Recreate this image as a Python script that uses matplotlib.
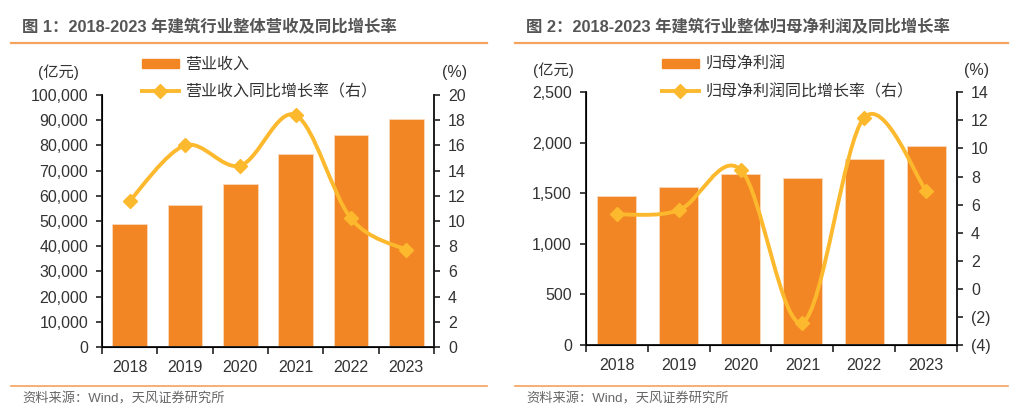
import matplotlib
matplotlib.use('Agg')
import matplotlib.pyplot as plt
from matplotlib.path import Path
from matplotlib.patches import PathPatch
from matplotlib.lines import Line2D
from matplotlib.ticker import FuncFormatter
import numpy as np

plt.rcParams['font.family'] = ['Liberation Sans', 'Noto Sans CJK SC', 'DejaVu Sans']

years = ['2018', '2019', '2020', '2021', '2022', '2023']

# 图1 营业收入 (亿元) 及同比增长率 (%)
revenue = [48700, 56300, 64600, 76500, 84100, 90500]
revenue_yoy = [11.6, 16.0, 14.4, 18.4, 10.2, 7.7]

# 图2 归母净利润 (亿元) 及同比增长率 (%)
profit = [1474, 1560, 1692, 1649, 1840, 1972]
profit_yoy = [5.3, 5.6, 8.5, -2.4, 12.2, 7.0]

BAR = '#F28524'
LINE = '#FDB92E'
ACCENT = '#F5A25D'
TXT = '#333333'


def smooth_path(xs, ys):
    # excel-style smooth line: cubic bezier segments through the data points
    p = np.column_stack([xs, ys]).astype(float)
    pts = np.vstack([p[0], p, p[-1]])
    verts = [tuple(p[0])]
    codes = [Path.MOVETO]
    for i in range(1, len(pts) - 2):
        c1 = pts[i] + (pts[i + 1] - pts[i - 1]) / 6
        c2 = pts[i + 1] - (pts[i + 2] - pts[i]) / 6
        verts += [tuple(c1), tuple(c2), tuple(pts[i + 1])]
        codes += [Path.CURVE4] * 3
    return Path(verts, codes)


def panel(fig, rect, bars, yoy, ylim, yticks, y2lim, y2ticks, ytick_fmt, y2_fmt):
    ax = fig.add_axes(rect)
    x = np.arange(len(years))
    ax.bar(x, bars, width=0.63, color=BAR, edgecolor='#F9D9BC', linewidth=0.6, zorder=2)
    ax.set_xlim(-0.5, len(years) - 0.5)
    ax.set_ylim(*ylim)
    ax.set_yticks(yticks)
    ax.yaxis.set_major_formatter(FuncFormatter(ytick_fmt))
    ax.set_xticks(x)
    ax.set_xticklabels(years)
    ax.set_xticks(np.arange(-0.5, len(years)), minor=True)
    ax.tick_params(axis='x', which='major', length=0, pad=9, labelsize=11.5, colors=TXT)
    ax.tick_params(axis='x', which='minor', length=5, width=1.2, direction='out', color='#222222')
    ax.tick_params(axis='y', length=4, width=1.2, direction='out', labelsize=11.5,
                   colors=TXT, color='#222222', pad=6)
    ax.spines['top'].set_visible(False)
    for s in ['left', 'right', 'bottom']:
        ax.spines[s].set_linewidth(1.4)
        ax.spines[s].set_color('#222222')

    ax2 = ax.twinx()
    ax2.set_ylim(*y2lim)
    ax2.set_yticks(y2ticks)
    ax2.yaxis.set_major_formatter(FuncFormatter(y2_fmt))
    ax2.tick_params(axis='y', length=4, width=1.2, direction='out', labelsize=11.5,
                    colors=TXT, color='#222222', pad=6)
    ax2.spines['top'].set_visible(False)
    ax2.spines['right'].set_linewidth(1.4)
    ax2.spines['right'].set_color('#222222')
    ax2.add_patch(PathPatch(smooth_path(x, yoy), facecolor='none', edgecolor=LINE,
                            linewidth=2.8, zorder=3))
    ax2.plot(x, yoy, linestyle='none', marker='D', markersize=7.5, color=LINE, zorder=4)
    return ax, ax2


def legend(fig, x0, y0, bar_label, line_label):
    h1 = plt.Rectangle((0, 0), 1, 1, color=BAR)
    h2 = Line2D([0], [0], color=LINE, linewidth=2.8, marker='D', markersize=7.5)
    fig.legend([h1, h2], [bar_label, line_label], loc='upper left',
               bbox_to_anchor=(x0 / 1012, 1 - y0 / 407), frameon=False, fontsize=11.5,
               handlelength=2.3, handleheight=0.55, handletextpad=0.4,
               labelspacing=0.75, borderaxespad=0, borderpad=0, labelcolor=TXT)


fig = plt.figure(figsize=(10.12, 4.07), dpi=100)

comma = lambda v, pos: f'{v:,.0f}'
plain = lambda v, pos: f'{v:.0f}'
paren = lambda v, pos: f'({abs(v):.0f})' if v < 0 else f'{v:.0f}'

panel(fig, [102 / 1012, 60 / 407, 332 / 1012, 252 / 407], revenue, revenue_yoy,
      (0, 100000), np.arange(0, 100001, 10000), (0, 20), np.arange(0, 21, 2), comma, plain)
panel(fig, [586 / 1012, 62 / 407, 371 / 1012, 252.7 / 407], profit, profit_yoy,
      (0, 2500), np.arange(0, 2501, 500), (-4, 14), np.arange(-4, 15, 2), comma, paren)

legend(fig, 142, 57, '营业收入', '营业收入同比增长率（右）')
legend(fig, 662, 57, '归母净利润', '归母净利润同比增长率（右）')

# titles, rules, units, source
for x0, x1, tx, title in [(11, 487, 22, '图 1：2018-2023 年建筑行业整体营收及同比增长率'),
                          (515, 1008, 526, '图 2：2018-2023 年建筑行业整体归母净利润及同比增长率')]:
    fig.text(tx / 1012, 1 - 27 / 407, title, fontsize=11.8, fontweight='bold',
             color='#555555', va='center', ha='left')
    fig.add_artist(Line2D([x0 / 1012, x1 / 1012], [1 - 43 / 407] * 2, color=ACCENT, linewidth=1.6))
    fig.add_artist(Line2D([x0 / 1012, x1 / 1012], [1 - 386 / 407] * 2, color=ACCENT, linewidth=1.2))
    fig.text(tx / 1012, 1 - 406 / 407, '资料来源：Wind，天风证券研究所', fontsize=9.5,
             color='#666666', va='bottom', ha='left')

for ux, px, uy in [(58, 455, 72), (553, 977, 70)]:
    fig.text(ux / 1012, 1 - uy / 407, '(亿元)', fontsize=11, color=TXT, ha='center', va='center')
    fig.text(px / 1012, 1 - uy / 407, '(%)', fontsize=11.5, color=TXT, ha='center', va='center')

fig.savefig('out.png', dpi=100, facecolor='white')
